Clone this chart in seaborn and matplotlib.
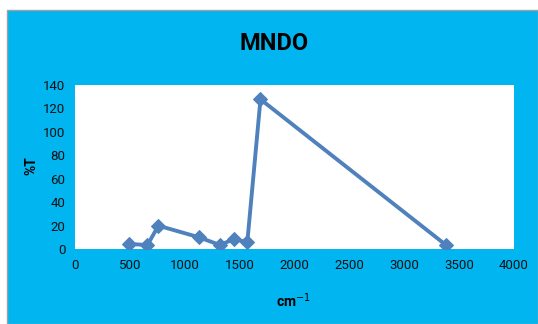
import matplotlib
matplotlib.use("Agg")
import matplotlib.pyplot as plt
import seaborn as sns
import pandas as pd
from matplotlib.patches import Rectangle

wavenumber = [490, 660, 760, 1130, 1320, 1450, 1570, 1690, 3380]
transmittance = [4.3, 3.4, 19.9, 10.0, 3.4, 8.5, 5.7, 127.8, 3.4]
x_ticks = [0, 500, 1000, 1500, 2000, 2500, 3000, 3500, 4000]
y_ticks = [0, 20, 40, 60, 80, 100, 120, 140]

df = pd.DataFrame({"cm": wavenumber, "T": transmittance})

sns.set_style("white")
plt.rcParams['font.family'] = ['Roboto', 'DejaVu Sans']

fig = plt.figure(figsize=(5.38, 3.24), dpi=100)
fig.patch.set_facecolor("white")
bg = Rectangle((7 / 538, 0), 1 - 7 / 538, 1 - 10 / 324, transform=fig.transFigure,
               facecolor="#00B5F0", edgecolor="#A0A0A0", linewidth=1.0, zorder=-10)
fig.patches.append(bg)

ax = fig.add_axes([75 / 538, 1 - 249 / 324, (514 - 75) / 538, (249 - 85) / 324])
ax.set_facecolor("white")
sns.lineplot(data=df, x="cm", y="T", ax=ax, color="#4F81BD", linewidth=2.8,
             marker="D", markersize=7.5, markeredgecolor="#4F81BD", sort=False)
ax.set_xlim(0, 4000)
ax.set_ylim(0, 140)
ax.set_xticks(x_ticks)
ax.set_yticks(y_ticks)
ax.tick_params(axis="both", length=0, labelsize=9.5, colors="#111111", pad=7)
for s in ax.spines.values():
    s.set_visible(False)
ax.set_xlabel("cm$^{-1}$", fontsize=10, fontweight="bold", color="black")
ax.set_ylabel("%T", fontsize=10, fontweight="bold", color="black")
ax.xaxis.set_label_coords(0.497, -0.256)
ax.yaxis.set_label_coords(-0.084, 0.51)
fig.text(0.51, 1 - 44 / 324, "MNDO", ha="center", va="center", fontsize=17,
         fontweight="bold", color="black")

fig.savefig("out.png", dpi=100)
